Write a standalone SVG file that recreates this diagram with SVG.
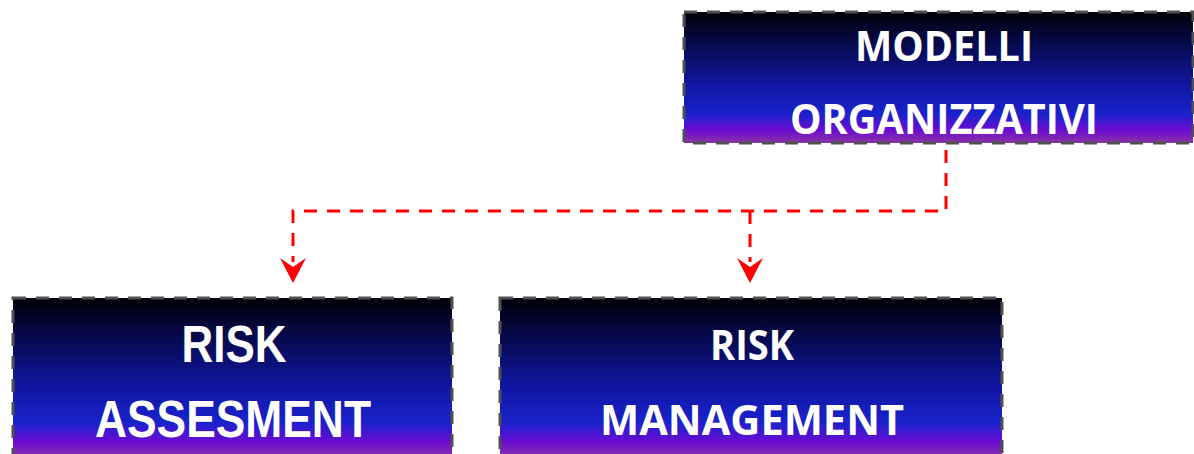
<svg xmlns="http://www.w3.org/2000/svg" width="1194" height="454" viewBox="0 0 1194 454">
<defs>
<linearGradient id="g" x1="0" y1="0" x2="0" y2="1">
<stop offset="0" stop-color="#000008"/>
<stop offset="0.3" stop-color="#080c5c"/>
<stop offset="0.55" stop-color="#1016a0"/>
<stop offset="0.78" stop-color="#1a22cc"/>
<stop offset="0.9" stop-color="#6a0cd2"/>
<stop offset="1" stop-color="#8a34a4"/>
</linearGradient>
<style>
.box{fill:url(#g);stroke:#505050;stroke-width:3;stroke-dasharray:13 10}
.t{fill:#fff;font-family:"Open Sans","Liberation Sans",sans-serif;font-weight:bold;text-anchor:middle}
.n{font-family:"Liberation Sans",sans-serif}
.c{fill:none;stroke:#ff0000;stroke-width:3;stroke-dasharray:13 10}
.a{fill:#ff0000}
</style>
</defs>
<g id="connectors">
<path class="c" d="M946,150 V211 H293 V262"/>
<path class="c" d="M750,211 V262"/>
<path class="a" d="M280,258 L293,283 L306,258 L293,267 Z"/>
<path class="a" d="M737,258 L750,283 L763,258 L750,267 Z"/>
</g>
<g id="modelli">
<rect class="box" x="684" y="12" width="509" height="131"/>
<text class="t" x="944" y="61" font-size="42" textLength="178" lengthAdjust="spacingAndGlyphs">MODELLI</text>
<text class="t" x="944" y="134" font-size="42" textLength="308" lengthAdjust="spacingAndGlyphs">ORGANIZZATIVI</text>
</g>
<g id="assesment">
<rect class="box" x="13" y="298" width="439" height="160"/>
<text class="t n" x="234" y="362" font-size="51" textLength="105" lengthAdjust="spacingAndGlyphs">RISK</text>
<text class="t n" x="233" y="437" font-size="51" textLength="276" lengthAdjust="spacingAndGlyphs">ASSESMENT</text>
</g>
<g id="management">
<rect class="box" x="500" y="298" width="502" height="160"/>
<text class="t" x="752" y="360" font-size="42" textLength="84" lengthAdjust="spacingAndGlyphs">RISK</text>
<text class="t" x="752" y="435" font-size="42" textLength="304" lengthAdjust="spacingAndGlyphs">MANAGEMENT</text>
</g>
</svg>
